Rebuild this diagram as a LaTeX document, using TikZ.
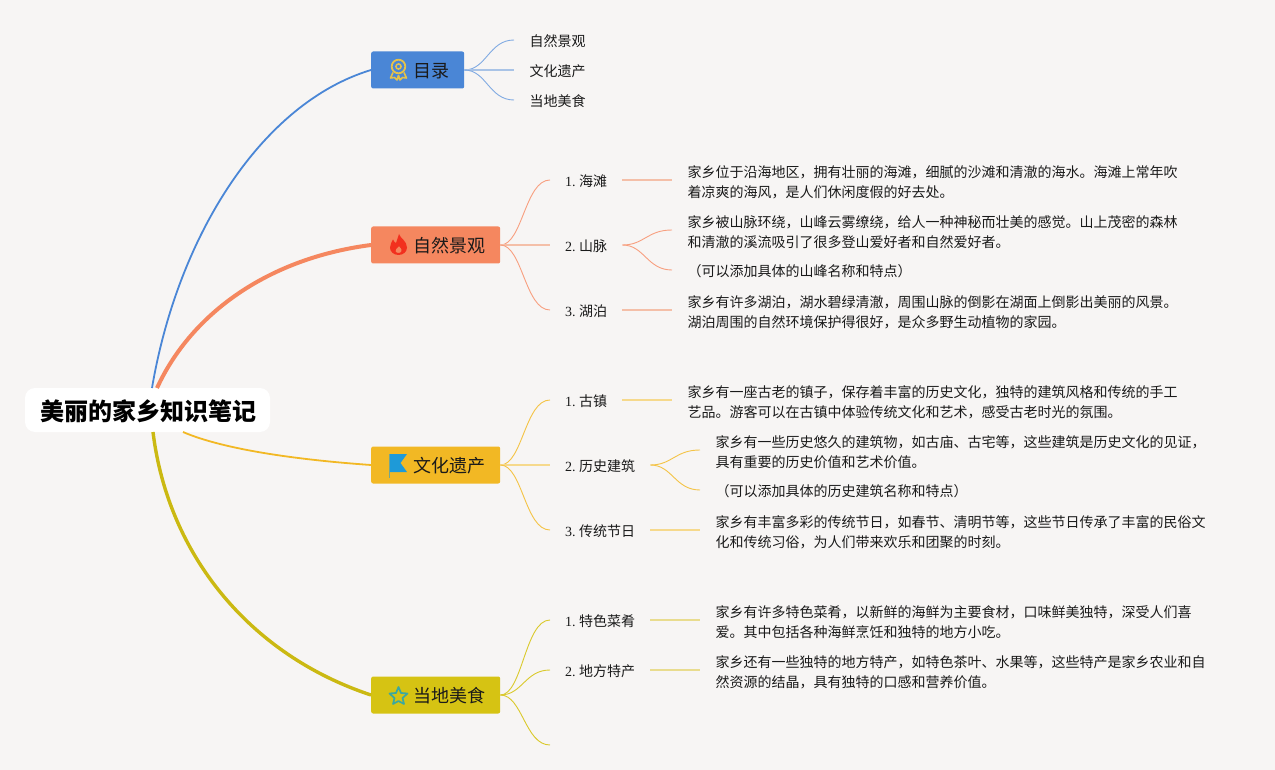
\documentclass[tikz,border=0pt]{standalone}
\usepackage{fontspec}
\setmainfont{Liberation Serif}
\newfontfamily\cjk{Noto Sans CJK SC}
\frenchspacing
\definecolor{bgc}{HTML}{F7F5F4}
\definecolor{cblue}{HTML}{4A86D6}
\definecolor{corange}{HTML}{F5875F}
\definecolor{camber}{HTML}{F2B824}
\definecolor{cyellow}{HTML}{D6C313}
\definecolor{lblue}{HTML}{A9C3E6}
\definecolor{lorange}{HTML}{F4BFA8}
\definecolor{lamber}{HTML}{F6D98C}
\definecolor{lyellow}{HTML}{E9DC8E}
\definecolor{ink}{HTML}{1A1A1A}
\definecolor{medal}{HTML}{E6C24A}
\definecolor{flame}{HTML}{F2301E}
\definecolor{flagc}{HTML}{1E9AD8}
\definecolor{starc}{HTML}{3BA8A0}
\tikzset{
  rootbox/.style={fill=white,rounded corners=10pt,minimum width=245pt,minimum height=44pt,inner sep=0pt,text height=24pt,text depth=4pt,font=\fontsize{24}{28}\selectfont\cjk\bfseries,text=black},
  branchbox/.style={rounded corners=2pt,minimum height=37pt,inner xsep=15pt,inner ysep=0pt,text height=18pt,text depth=2.4pt,anchor=west,font=\fontsize{18}{22}\selectfont\cjk,text=ink},
  subbox/.style={inner xsep=15pt,inner ysep=0pt,text height=15pt,text depth=2.4pt,anchor=west,font=\fontsize{14}{20}\selectfont,text=ink},
  bodybox/.style={inner xsep=15.5pt,inner ysep=0pt,anchor=west,align=left,font=\fontsize{14}{20}\selectfont\cjk,text=ink},
  trunk/.style={line cap=butt},
  twig/.style={line width=0.9pt},
  flat/.style={line width=1.5pt}
}
\begin{document}
\begin{tikzpicture}[x=1pt,y=-1pt]
\useasboundingbox (0,0) rectangle (1275,770);
\fill[bgc] (0,0) rectangle (1275,770);
% hub anchors
\coordinate (r1) at (152,388);
\coordinate (r2) at (157,388);
\coordinate (r3) at (183,432);
\coordinate (r4) at (153,432);
% branches
\node[rootbox] (root) at (147.5,410) {\hspace{2pt}美丽的家乡知识笔记};
\node[branchbox,fill=cblue] (b1) at (371,70) {\hspace{27pt}目录\hspace{1.4pt}};
\node[branchbox,fill=corange] (b2) at (371,245) {\hspace{27pt}自然景观\hspace{1.4pt}};
\node[branchbox,fill=camber] (b3) at (371,465) {\hspace{27pt}文化遗产\hspace{1.4pt}};
\node[branchbox,fill=cyellow] (b4) at (371,695) {\hspace{27pt}当地美食\hspace{1.4pt}};
% contents leaves
\node[bodybox] (t1) at (514,41) {自然景观};
\node[bodybox] (t2) at (514,71) {文化遗产};
\node[bodybox] (t3) at (514,101) {当地美食};
% section 2
\node[subbox] (s21) at (550,180) {1. {\cjk 海滩}};
\node[subbox] (s22) at (550,245) {2. {\cjk 山脉}};
\node[subbox] (s23) at (550,310) {3. {\cjk 湖泊}};
\node[bodybox] (d21) at (672,182) {家乡位于沿海地区，拥有壮丽的海滩，细腻的沙滩和清澈的海水。海滩上常年吹\\着凉爽的海风，是人们休闲度假的好去处。};
\node[bodybox] (d22) at (672,232) {家乡被山脉环绕，山峰云雾缭绕，给人一种神秘而壮美的感觉。山上茂密的森林\\和清澈的溪流吸引了很多登山爱好者和自然爱好者。};
\node[bodybox] (d23) at (672,271.5) {（可以添加具体的山峰名称和特点）};
\node[bodybox] (d24) at (672,312) {家乡有许多湖泊，湖水碧绿清澈，周围山脉的倒影在湖面上倒影出美丽的风景。\\湖泊周围的自然环境保护得很好，是众多野生动植物的家园。};
% section 3
\node[subbox] (s31) at (550,400) {1. {\cjk 古镇}};
\node[subbox] (s32) at (550,465) {2. {\cjk 历史建筑}};
\node[subbox] (s33) at (550,530) {3. {\cjk 传统节日}};
\node[bodybox] (d31) at (672,402) {家乡有一座古老的镇子，保存着丰富的历史文化，独特的建筑风格和传统的手工\\艺品。游客可以在古镇中体验传统文化和艺术，感受古老时光的氛围。};
\node[bodybox] (d32) at (700,452) {家乡有一些历史悠久的建筑物，如古庙、古宅等，这些建筑是历史文化的见证，\\具有重要的历史价值和艺术价值。};
\node[bodybox] (d33) at (700,491.5) {（可以添加具体的历史建筑名称和特点）};
\node[bodybox] (d34) at (700,532) {家乡有丰富多彩的传统节日，如春节、清明节等，这些节日传承了丰富的民俗文\\化和传统习俗，为人们带来欢乐和团聚的时刻。};
% section 4
\node[subbox] (s41) at (550,620) {1. {\cjk 特色菜肴}};
\node[subbox] (s42) at (550,670) {2. {\cjk 地方特产}};
\coordinate (s43) at (550,745);
\node[bodybox] (d41) at (700,622) {家乡有许多特色菜肴，以新鲜的海鲜为主要食材，口味鲜美独特，深受人们喜\\爱。其中包括各种海鲜烹饪和独特的地方小吃。};
\node[bodybox] (d42) at (700,672) {家乡还有一些独特的地方特产，如特色茶叶、水果等，这些特产是家乡农业和自\\然资源的结晶，具有独特的口感和营养价值。};
% trunks
\draw[trunk,cblue,line width=1.8pt] (r1) .. controls (178,235) and (262,103) .. (b1.west);
\draw[trunk,corange,line width=4pt] (r2) .. controls (192,312) and (270,258) .. (b2.west);
\draw[trunk,camber,line width=1.8pt] (r3) .. controls (225,450) and (300,460) .. (b3.west);
\draw[trunk,cyellow!95!black,line width=3.4pt] (r4) .. controls (168,555) and (250,655) .. (b4.west);
% twigs: contents
\draw[twig,cblue!70!white] (b1.east) .. controls +(22,0) and +(-25,0) .. (t1.west|-0,40);
\draw[flat,lblue] (b1.east) -- (t2.west|-0,70);
\draw[twig,cblue!70!white] (b1.east) .. controls +(22,0) and +(-25,0) .. (t3.west|-0,100);
% twigs: section 2
\draw[twig,corange!80!white] (b2.east) .. controls +(22,0) and +(-25,0) .. (s21.west);
\draw[flat,lorange] (b2.east) -- (s22.west);
\draw[twig,corange!80!white] (b2.east) .. controls +(22,0) and +(-25,0) .. (s23.west);
\draw[flat,lorange] (s21.east) -- (d21.west|-s21.east);
\draw[twig,corange!80!white] (s22.east) .. controls +(22,0) and +(-25,0) .. (d22.west|-0,230);
\draw[twig,corange!80!white] (s22.east) .. controls +(22,0) and +(-25,0) .. (d23.west|-0,270);
\draw[flat,lorange] (s23.east) -- (d24.west|-s23.east);
% twigs: section 3
\draw[twig,camber!85!white] (b3.east) .. controls +(22,0) and +(-25,0) .. (s31.west);
\draw[flat,lamber] (b3.east) -- (s32.west);
\draw[twig,camber!85!white] (b3.east) .. controls +(22,0) and +(-25,0) .. (s33.west);
\draw[flat,lamber] (s31.east) -- (d31.west|-s31.east);
\draw[twig,camber!85!white] (s32.east) .. controls +(22,0) and +(-25,0) .. (d32.west|-0,450);
\draw[twig,camber!85!white] (s32.east) .. controls +(22,0) and +(-25,0) .. (d33.west|-0,490);
\draw[flat,lamber] (s33.east) -- (d34.west|-s33.east);
% twigs: section 4
\draw[twig,cyellow!90!white] (b4.east) .. controls +(22,0) and +(-25,0) .. (s41.west);
\draw[twig,cyellow!90!white] (b4.east) .. controls +(22,0) and +(-25,0) .. (s42.west);
\draw[twig,cyellow!90!white] (b4.east) .. controls +(22,0) and +(-25,0) .. (s43);
\draw[flat,lyellow] (s41.east) -- (d41.west|-s41.east);
\draw[flat,lyellow] (s42.east) -- (d42.west|-s42.east);
% icon: medal
\draw[line width=1.8pt,draw=medal] (398.5,66.5) circle (6.8);
\draw[line width=1.5pt,draw=medal] (398.5,66.5) circle (2.6);
\draw[line width=1.6pt,draw=medal,line join=round] (393,72.5) -- (390.5,78) -- (394.5,77.5) -- (397,80) -- (398.5,75.5) -- (400,80) -- (402.5,77.5) -- (406.5,78) -- (404,72.5);
% icon: flame
\fill[flame,even odd rule] (399,234) .. controls (400,238) and (407,241) .. (407,247.5) .. controls (407,252) and (403,255) .. (398.5,255) .. controls (393.5,255) and (390,251.5) .. (390,247.5) .. controls (390,244) and (392,242) .. (393,239.5) .. controls (394,241.5) and (395,243) .. (396,243) .. controls (397,240) and (398,237) .. (399,234) -- cycle
 (399,246) .. controls (401,248) and (402.5,250) .. (401.5,251.5) .. controls (400.5,253.5) and (396.5,253.5) .. (395.5,251.5) .. controls (394.5,250) and (397,248) .. (399,246) -- cycle;
% icon: flag
\fill[flagc] (389,454) -- (407,454) -- (400.5,463) -- (407,472) -- (389,472) -- cycle;
\draw[flagc!60!camber,line width=0.8pt] (389,454) -- (389,478);
% icon: star
\draw[line width=1.7pt,draw=starc,line join=round] (398.5,687) -- (401,693) -- (407.5,693.5) -- (402.5,698) -- (404,704) -- (398.5,701) -- (393,704) -- (394.5,698) -- (389.5,693.5) -- (396,693) -- cycle;
\end{tikzpicture}
\end{document}
